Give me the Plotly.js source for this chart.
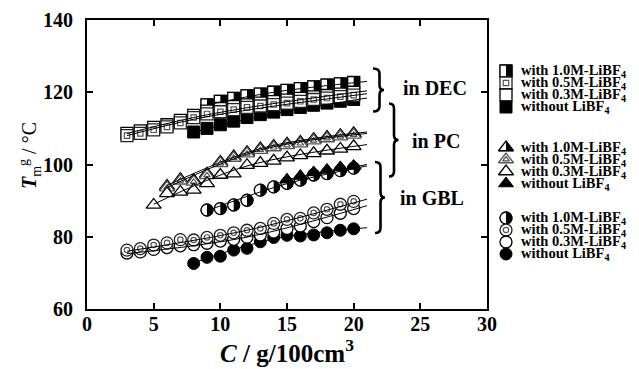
<!DOCTYPE html>
<html><head><meta charset="utf-8">
<script src="https://cdn.plot.ly/plotly-3.0.1.min.js"></script>
<style>html,body{margin:0;padding:0;background:#fff}#chart{width:639px;height:369px}</style>
</head><body><div id="chart"></div>
<script>
// ---------------- data ----------------
const xTicks = [0, 5, 10, 15, 20, 25, 30];
const yTicks = [60, 80, 100, 120, 140];

// in DEC (squares)
const dec10x = [9,10,11,12,13,14,15,16,17,18,19,20];
const dec10y = [116.5,117.5,118.3,119,119.5,120,120.5,121,121.5,122,122.3,122.7];
const dec05x = [3,4,5,6,7,8,9,10,11,12,13,14,15,16,17,18,19,20];
const dec05y = [108,108.6,109.6,110.4,111.5,113,114,114.6,115.2,115.8,116.2,116.6,117,117.5,118,118.4,118.8,119.2];
const dec03x = [3,4,5,6,7,8,9,10,11,12,13,14,15,16,17,18,19,20];
const dec03y = [108.6,109.3,110.3,111,112.2,113.6,114.8,115.5,116,116.5,117,117.4,117.8,118.3,118.7,119.1,119.5,120];
const dec00x = [8,9,10,11,12,13,14,15,16,17,18,19,20];
const dec00y = [109,110,111,112,113,113.8,114.5,115.2,115.8,116.4,117,117.5,118];

// in PC (triangles)
const pc10x = [6,7,8,9,10,11,12,13,14,15,16,17,18,19,20];
const pc10y = [94,95.9,95.6,97.4,100.7,102.2,103.4,104.4,105.1,105.7,106.2,107,107.6,108.1,108.6];
const pc05x = [6,7,8,9,10,11,12,13,14,15,16,17,18,19,20];
const pc05y = [93.6,95.5,95.2,97,100.3,101.8,103,104,104.7,105.3,105.8,106.6,107.2,107.7,108.2];
const pc03x = [5,6,7,8,9,10,11,12,13,14,15,16,17,18,19,20];
const pc03y = [88.8,92,92.4,93,94.8,97.1,97.5,99.8,100.4,101,101.9,102.5,103.1,103.8,104.3,105];
const pc00x = [15,16,17,18,19,20];
const pc00y = [95.8,96.8,97.8,98.5,99.2,99.6];

// in GBL (circles)
const gbl10x = [9,10,11,12,13,14,15,16,17,18,19,20];
const gbl10y = [87.4,87.8,88.8,90.1,92.9,93.8,94.8,95.7,97.1,97.5,98.3,99];
const gbl05x = [3,4,5,6,7,8,9,10,11,12,13,14,15,16,17,18,19,20];
const gbl05y = [76.3,76.7,77.7,78.3,79.2,79.1,79.8,80.4,81.1,81.8,82.3,83.7,84.8,85.1,86.6,87.6,89,89.8];
const gbl03x = [3,4,5,6,7,8,9,10,11,12,13,14,15,16,17,18,19,20];
const gbl03y = [75.5,75.8,76.5,77,77.5,77.8,78.2,78.8,79.3,79.9,80.5,81.3,82.3,83,84.2,85.3,86.5,87.8];
const gbl00x = [8,9,10,11,12,13,14,15,16,17,18,19,20];
const gbl00y = [72.6,74.3,74.6,76.3,76.8,78.6,79.8,80.4,80.2,80.5,81.1,81.8,82.2];

// fitted curves drawn through each series
const fitDec10x = [9,14,21],   fitDec10y = [116.5,120,123];
const fitDec05x = [3,8,13,21], fitDec05y = [108,112.5,115.6,119.6];
const fitDec03x = [3,8,13,21], fitDec03y = [108.6,113,116.3,120.4];
const fitDec00x = [8,14,21],   fitDec00y = [109,114,118.4];
const fitPc10x = [6,13,21],    fitPc10y = [94.2,104.4,109];
const fitPc05x = [6,13,21],    fitPc05y = [93.6,104,108.6];
const fitPc03x = [5,12,21],    fitPc03y = [89,99.6,105.5];
const fitPc00x = [15,21],      fitPc00y = [95.8,100];
const fitGbl10x = [9,15,21],   fitGbl10y = [87.2,94.7,99.6];
const fitGbl05x = [3,12,21],   fitGbl05y = [76,81.8,90.4];
const fitGbl03x = [3,12,21],   fitGbl03y = [75.3,79.9,88.6];
const fitGbl00x = [8,14,21],   fitGbl00y = [72.8,79.4,82.5];

const seriesLabels = ['with 1.0M-LiBF<sub>4</sub>', 'with 0.5M-LiBF<sub>4</sub>',
                      'with 0.3M-LiBF<sub>4</sub>', 'without LiBF<sub>4</sub>'];
const seriesLevels = ['10', '05', '03', '00'];
const solventLabels = ['in DEC', 'in PC', 'in GBL'];
const solventKinds = ['sq', 'tri', 'circ'];

// ---------------- layout geometry ----------------
const W = 639, H = 369, mL = 87, mT = 20, mB = 60;
const plotW = W - mL, plotH = H - mT - mB;
const mainRight = 487;
const legLeft = 490;
const XR = [0, 30], YR = [60, 140];
const pxX = (mainRight - mL) / (XR[1] - XR[0]);
const pxY = plotH / (YR[1] - YR[0]);

const traces = [];
function mk(xs, ys, xa, ya, symbol, size, color, lineColor, lineWidth) {
  traces.push({
    type: 'scatter', mode: 'markers', x: xs, y: ys, xaxis: xa, yaxis: ya,
    hoverinfo: 'skip', showlegend: false, cliponaxis: false,
    marker: { symbol: symbol, size: size, color: color, line: { color: lineColor, width: lineWidth } }
  });
}
// sx, sy: screen px per data unit (sy measured downward)
function addMarkers(kind, level, xs, ys, xa, ya, sx, sy) {
  const S = kind === 'tri' ? 13 : 12;
  const base = kind === 'sq' ? 'square' : (kind === 'tri' ? 'triangle-up' : 'circle');
  if (level === '00') {
    mk(xs, ys, xa, ya, base, S, '#000', '#000', 1);
  } else if (level === '03') {
    mk(xs, ys, xa, ya, base, S, '#fff', '#000', 1.3);
  } else if (level === '05') {
    const lc = kind === 'tri' ? '#555' : '#222';
    mk(xs, ys, xa, ya, base, S, '#fff', lc, 1.3);
    mk(xs, ys, xa, ya, base + '-open', S * 0.45, '#555', '#555', 1.2);
  } else {
    mk(xs, ys, xa, ya, base, S, '#000', '#000', 1);
    const r = S / 2;
    let halfW, hgt, cy;
    if (kind === 'tri') {
      const rt = r * 2 / Math.sqrt(3);
      const top = -r * Math.SQRT2, bot = r / 2;
      halfW = rt; hgt = bot - top; cy = (top + bot) / 2;
    } else { halfW = r; hgt = 2 * r; cy = 0; }
    const bx = xs.map(v => v - (halfW / 2) / sx);
    const by = ys.map(v => v + cy / sy);
    mk(bx, by, xa, ya, 'line-ns-open', hgt / 1.4, '#fff', '#fff', halfW);
    mk(xs, ys, xa, ya, base + '-open', S, '#000', '#000', 1.3);
  }
}
function addLine(xs, ys) {
  traces.push({ type: 'scatter', mode: 'lines', x: xs, y: ys, hoverinfo: 'skip', showlegend: false,
    line: { color: '#000', width: 1, shape: 'spline', smoothing: 1 } });
}

// main markers (back to front)
const SX = pxX, SY = -pxY;
addMarkers('circ', '00', gbl00x, gbl00y, 'x', 'y', SX, SY);
addMarkers('circ', '03', gbl03x, gbl03y, 'x', 'y', SX, SY);
addMarkers('circ', '05', gbl05x, gbl05y, 'x', 'y', SX, SY);
addMarkers('circ', '10', gbl10x, gbl10y, 'x', 'y', SX, SY);
addMarkers('tri', '10', pc10x, pc10y, 'x', 'y', SX, SY);
addMarkers('tri', '05', pc05x, pc05y, 'x', 'y', SX, SY);
addMarkers('tri', '03', pc03x, pc03y, 'x', 'y', SX, SY);
addMarkers('tri', '00', pc00x, pc00y, 'x', 'y', SX, SY);
addMarkers('sq', '00', dec00x, dec00y, 'x', 'y', SX, SY);
addMarkers('sq', '10', dec10x, dec10y, 'x', 'y', SX, SY);
addMarkers('sq', '03', dec03x, dec03y, 'x', 'y', SX, SY);
addMarkers('sq', '05', dec05x, dec05y, 'x', 'y', SX, SY);

// fitted lines
[[fitDec10x, fitDec10y], [fitDec05x, fitDec05y], [fitDec03x, fitDec03y], [fitDec00x, fitDec00y],
 [fitPc10x, fitPc10y], [fitPc05x, fitPc05y], [fitPc03x, fitPc03y], [fitPc00x, fitPc00y],
 [fitGbl10x, fitGbl10y], [fitGbl05x, fitGbl05y], [fitGbl03x, fitGbl03y], [fitGbl00x, fitGbl00y]
].forEach(p => addLine(p[0], p[1]));

// custom legend (x2/y2 are in screen pixels)
const legMarkerX = 506, legTextX = 520;
const legGroupTop = [71, 147.5, 218];
const legRowStep = 12;
const annotations = [];
solventKinds.forEach((kind, g) => {
  seriesLevels.forEach((lev, i) => {
    const yy = legGroupTop[g] + i * legRowStep;
    addMarkers(kind, lev, [legMarkerX], [yy], 'x2', 'y2', 1, 1);
    annotations.push({ xref: 'x2', yref: 'y2', x: legTextX, y: yy, xanchor: 'left', yanchor: 'middle',
      text: seriesLabels[i], showarrow: false, borderpad: 0,
      font: { family: 'Liberation Serif', size: 14.5, weight: 'bold', color: '#000' } });
  });
});

// solvent labels and braces (screen px converted to paper)
const px2p = v => (v - mL) / plotW;
const py2p = v => (mT + plotH - v) / plotH;
const labelPos = [[435, 88], [436, 141], [432, 198]];
solventLabels.forEach((t, i) => {
  annotations.push({ xref: 'paper', yref: 'paper', x: px2p(labelPos[i][0]), y: py2p(labelPos[i][1]),
    xanchor: 'center', yanchor: 'middle', text: t, showarrow: false,
    font: { family: 'Liberation Serif', size: 20, weight: 'bold', color: '#000' } });
});
// y-axis title placed as a rotated annotation
annotations.push({ xref: 'paper', yref: 'paper', x: px2p(30), y: py2p(156), xanchor: 'center', yanchor: 'middle',
  textangle: -90, showarrow: false, text: '<b><i>T</i></b><sub>m</sub><sup>g</sup> / °C',
  font: { family: 'Liberation Serif', size: 20, color: '#000' } });

function brace(left, stem, tip, top, bot) {
  const mid = (top + bot) / 2, h = 5;
  const P = (x, y) => px2p(x).toFixed(5) + ',' + py2p(y).toFixed(5);
  return 'M' + P(left, top) + ' Q' + P(stem, top) + ' ' + P(stem, top + h) +
    ' L' + P(stem, mid - h) + ' Q' + P(stem, mid) + ' ' + P(tip, mid) +
    ' Q' + P(stem, mid) + ' ' + P(stem, mid + h) +
    ' L' + P(stem, bot - h) + ' Q' + P(stem, bot) + ' ' + P(left, bot);
}
const shapes = [
  brace(373, 379.5, 384, 68.5, 111.5),
  brace(389, 394, 398.5, 103.5, 176.5),
  brace(375, 380.5, 385, 162, 233)
].map(p => ({ type: 'path', xref: 'paper', yref: 'paper', path: p, line: { color: '#000', width: 2.6 } }));

const axisCommon = {
  ticks: 'inside', ticklen: 6, tickwidth: 2, tickcolor: '#000',
  showline: true, linewidth: 2, linecolor: '#000', mirror: 'ticks',
  showgrid: false, zeroline: false, automargin: false,
  tickfont: { family: 'Liberation Serif', size: 20, weight: 'bold', color: '#000' }
};
const layout = {
  width: W, height: H, margin: { l: mL, r: 0, t: mT, b: mB, pad: 0 },
  paper_bgcolor: '#fff', plot_bgcolor: '#fff', showlegend: false,
  font: { family: 'Liberation Serif', color: '#000' },
  xaxis: Object.assign({}, axisCommon, {
    domain: [0, (mainRight - mL) / plotW], range: XR, tickvals: xTicks, anchor: 'y',
    ticklabelstandoff: -4,
    title: { text: '<i>C</i> / g/100cm<sup>3</sup>', standoff: 4,
      font: { family: 'Liberation Serif', size: 25, weight: 'bold', color: '#000' } }
  }),
  yaxis: Object.assign({}, axisCommon, {
    domain: [0, 1], range: YR, tickvals: yTicks, anchor: 'x',
    ticklabelstandoff: 8
  }),
  xaxis2: { domain: [(legLeft - mL) / plotW, 1], range: [legLeft, W], visible: false, anchor: 'y2', fixedrange: true },
  yaxis2: { domain: [0, 1], range: [mT + plotH, mT], visible: false, anchor: 'x2', fixedrange: true },
  annotations: annotations,
  shapes: shapes
};
Plotly.newPlot('chart', traces, layout, { staticPlot: true, displayModeBar: false });
</script>
</body></html>
